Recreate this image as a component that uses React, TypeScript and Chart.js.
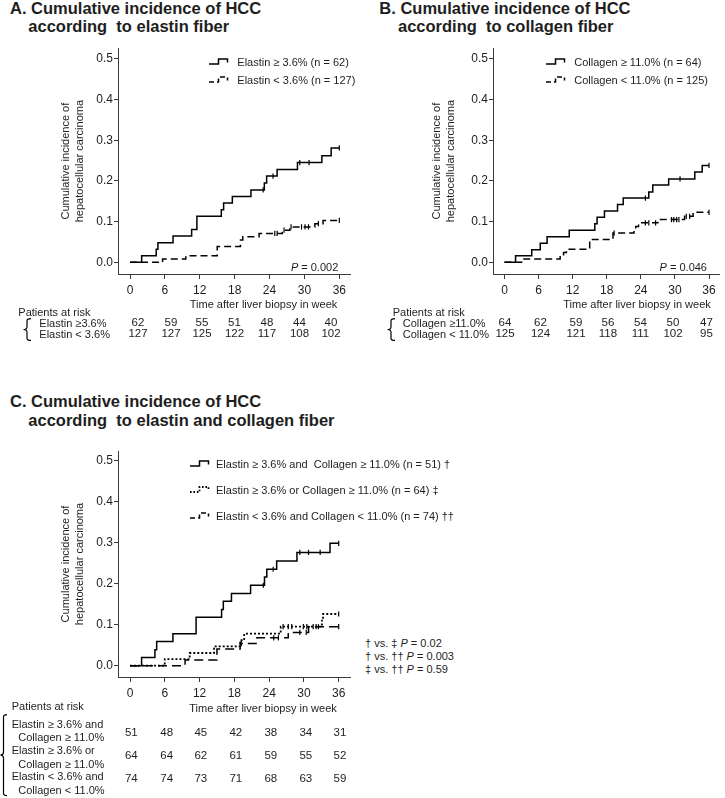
import React, { useEffect, useRef } from "react";
import { Chart, registerables } from "chart.js";

Chart.register(...registerables);

const FONT = "'Liberation Sans', Arial, Helvetica, sans-serif";
const INK = "#1e1e1e";
const AXIS = "#3a3a3a";

// ---------- shared axis ticks ----------
const weekTicks = [0, 6, 12, 18, 24, 30, 36];
const incidenceTicks = [0, 0.1, 0.2, 0.3, 0.4, 0.5];

// ---------- Panel A: elastin ----------
const elastinHighTimes = [0, 2.0, 4.5, 4.8, 7.4, 10.6, 11.5, 15.7, 16.1, 17.6, 20.8, 23.1, 23.5, 25.3, 28.8, 33.0, 34.6, 36];
const elastinHighValues = [0, 0.016, 0.032, 0.048, 0.065, 0.081, 0.113, 0.129, 0.146, 0.162, 0.178, 0.195, 0.212, 0.228, 0.245, 0.262, 0.281, 0.281];
const elastinHighCensors = [22.9, 24.6, 29.2, 30.8, 36];

const elastinLowTimes = [0, 5.6, 9.6, 15.0, 19.0, 19.4, 22.2, 26.2, 27.5, 31.8, 33.2, 36];
const elastinLowValues = [0, 0.008, 0.016, 0.039, 0.055, 0.063, 0.071, 0.079, 0.087, 0.095, 0.103, 0.103];
const elastinLowCensors = [24.9, 25.3, 26.5, 27.7, 29.5, 30.1, 30.7, 32.4, 36];

// ---------- Panel B: collagen ----------
const collagenHighTimes = [0, 1.95, 4.8, 6.3, 7.5, 11.4, 15.9, 16.3, 17.6, 19.9, 20.9, 25.4, 26.1, 28.9, 33.5, 34.8, 36];
const collagenHighValues = [0, 0.016, 0.031, 0.047, 0.063, 0.079, 0.095, 0.111, 0.126, 0.142, 0.158, 0.173, 0.190, 0.205, 0.222, 0.238, 0.238];
const collagenHighCensors = [24.8, 30.9, 36];

const collagenLowTimes = [0, 3.2, 9.8, 10.4, 10.9, 15.0, 19.1, 22.8, 23.1, 23.6, 27.0, 31.7, 33.2, 36];
const collagenLowValues = [0, 0.008, 0.016, 0.024, 0.032, 0.056, 0.072, 0.080, 0.088, 0.097, 0.105, 0.113, 0.123, 0.123];
const collagenLowCensors = [19.3, 24.8, 25.4, 26.6, 29.4, 29.8, 30.3, 30.7, 32.0, 32.6, 36];

// ---------- Panel C: combined ----------
const bothHighTimes = [0, 2.0, 4.3, 4.6, 7.4, 11.4, 15.8, 16.1, 17.5, 20.8, 23.2, 23.6, 25.3, 28.8, 34.5, 36];
const bothHighValues = [0, 0.020, 0.039, 0.059, 0.078, 0.118, 0.137, 0.157, 0.176, 0.196, 0.216, 0.235, 0.255, 0.276, 0.298, 0.298];
const bothHighCensors = [23.0, 24.7, 29.3, 30.8, 32.8, 36];

const eitherHighTimes = [0, 6.0, 10.3, 14.5, 19.0, 19.7, 26.0, 33.1, 33.3, 36];
const eitherHighValues = [0, 0.016, 0.031, 0.047, 0.062, 0.078, 0.095, 0.110, 0.126, 0.126];
const eitherHighCensors = [26.4, 27.3, 27.9, 29.9, 30.5, 36];

const bothLowTimes = [0, 9.5, 15.0, 19.0, 21.9, 27.3, 30.8, 36];
const bothLowValues = [0, 0.014, 0.041, 0.054, 0.068, 0.081, 0.095, 0.095];
const bothLowCensors = [19.2, 24.8, 25.6, 29.3, 30.4, 31.6, 32.1, 32.5, 36];

// ---------- numbers at risk ----------
const riskElastinHigh = [62, 59, 55, 51, 48, 44, 40];
const riskElastinLow = [127, 127, 125, 122, 117, 108, 102];
const riskCollagenHigh = [64, 62, 59, 56, 54, 50, 47];
const riskCollagenLow = [125, 124, 121, 118, 111, 102, 95];
const riskBothHigh = [51, 48, 45, 42, 38, 34, 31];
const riskEitherHigh = [64, 64, 62, 61, 59, 55, 52];
const riskBothLow = [74, 74, 73, 71, 68, 63, 59];

// layout of risk-table columns (pixels)
const colsA = [138, 171, 202, 234.5, 267, 299.5, 331];
const colsB = [505, 540.5, 576, 608, 640.5, 673, 706.5];
const colsC = [131.3, 166.7, 200.8, 235.8, 270.8, 305.8, 340];

function stepAt(times: number[], values: number[], t: number) {
  let v = values[0];
  for (let i = 0; i < times.length; i++) if (times[i] <= t) v = values[i];
  return v;
}

type Series = { times: number[]; values: number[]; censors: number[]; dash: number[]; width: number };

type Geo = {
  xMin: number; xMax: number; yMin: number; yMax: number;
  yAxisWidth: number; xAxisHeight: number; padTop: number; padRight: number; titlePad: number;
};

function makeConfig(series: Series[], g: Geo): any {
  const datasets: any[] = [];
  series.forEach((s) => {
    datasets.push({
      data: s.times.map((t, i) => ({ x: t, y: s.values[i] })),
      stepped: true,
      borderColor: "#000",
      borderWidth: s.width,
      borderDash: s.dash,
      pointRadius: 0,
      fill: false,
      tension: 0,
    });
    datasets.push({
      data: s.censors.map((t) => ({ x: t, y: stepAt(s.times, s.values, t) })),
      showLine: false,
      pointStyle: "line",
      rotation: 90,
      pointRadius: 2.6,
      pointBorderWidth: 1.2,
      pointBorderColor: "#000",
      borderColor: "#000",
    });
  });
  const gridBase = { display: true, drawOnChartArea: false, drawTicks: true, color: AXIS, lineWidth: 1 };
  return {
    type: "line",
    data: { datasets },
    options: {
      animation: false,
      responsive: false,
      maintainAspectRatio: false,
      events: [],
      layout: { padding: { left: 0, top: g.padTop, right: g.padRight, bottom: 0 } },
      plugins: { legend: { display: false }, tooltip: { enabled: false } },
      scales: {
        x: {
          type: "linear",
          min: g.xMin,
          max: g.xMax,
          afterBuildTicks: (sc: any) => { sc.ticks = weekTicks.map((v) => ({ value: v })); },
          afterFit: (sc: any) => { sc.height = g.xAxisHeight; },
          grid: { ...gridBase, tickLength: 5 },
          border: { display: true, color: AXIS, width: 1 },
          ticks: { font: { family: FONT, size: 12 }, color: INK, padding: 4, maxRotation: 0, autoSkip: false, callback: (v: any) => String(v) },
        },
        y: {
          type: "linear",
          min: g.yMin,
          max: g.yMax,
          afterBuildTicks: (sc: any) => { sc.ticks = incidenceTicks.map((v) => ({ value: v })); },
          afterFit: (sc: any) => { sc.width = g.yAxisWidth; },
          grid: { ...gridBase, tickLength: 4 },
          border: { display: true, color: AXIS, width: 1 },
          ticks: { font: { family: FONT, size: 12 }, color: INK, padding: 1, autoSkip: false, callback: (v: any) => Number(v).toFixed(1) },
          title: {
            display: true,
            text: ["Cumulative incidence of", "hepatocellular carcinoma"],
            font: { family: FONT, size: 11, lineHeight: 1.3 },
            color: INK,
            padding: { top: g.titlePad, bottom: 0 },
          },
        },
      },
    },
  };
}

function KMChart(props: { left: number; top: number; width: number; height: number; series: Series[]; geo: Geo }) {
  const ref = useRef<HTMLCanvasElement>(null);
  useEffect(() => {
    const chart = new Chart(ref.current as HTMLCanvasElement, makeConfig(props.series, props.geo));
    return () => chart.destroy();
  }, []);
  return (
    <canvas
      ref={ref}
      width={props.width}
      height={props.height}
      style={{ position: "absolute", left: props.left, top: props.top, width: props.width, height: props.height }}
    />
  );
}

function Txt(props: { x: number; y: number; anchor?: "start" | "middle" | "end"; size?: number; bold?: boolean; children: any }) {
  const a = props.anchor || "start";
  const tx = a === "middle" ? "-50%" : a === "end" ? "-100%" : "0";
  return (
    <div
      style={{
        position: "absolute",
        left: props.x,
        top: props.y,
        transform: `translate(${tx}, -50%)`,
        whiteSpace: "pre",
        fontFamily: FONT,
        fontSize: props.size || 11,
        lineHeight: 1,
        fontWeight: props.bold ? 700 : 400,
        color: INK,
      }}
    >
      {props.children}
    </div>
  );
}

function Glyph(props: { x: number; y: number; dash?: string; width?: number }) {
  return (
    <svg style={{ position: "absolute", left: props.x, top: props.y - 7 }} width={21} height={12}>
      <path d="M0 9 H9.5 V4 H18.5 V7.5" fill="none" stroke="#000" strokeWidth={props.width || 1.5} strokeDasharray={props.dash || "none"} />
    </svg>
  );
}

function Brace(props: { x: number; top: number; bottom: number; w?: number }) {
  const w = props.w || 8;
  const h = props.bottom - props.top;
  const mid = h / 2;
  const xm = w * 0.5;
  const r = Math.min(3, h / 8);
  const d = `M${w} 0.6 Q${xm} 0.6 ${xm} ${r} L${xm} ${mid - r} Q${xm} ${mid} 0.5 ${mid} Q${xm} ${mid} ${xm} ${mid + r} L${xm} ${h - r} Q${xm} ${h - 0.6} ${w} ${h - 0.6}`;
  return (
    <svg style={{ position: "absolute", left: props.x, top: props.top }} width={w + 1} height={h + 1}>
      <path d={d} fill="none" stroke="#000" strokeWidth={1.2} />
    </svg>
  );
}

function RiskRow(props: { cols: number[]; values: number[]; y: number }) {
  return (
    <>
      {props.values.map((v, i) => (
        <Txt key={i} x={props.cols[i]} y={props.y} anchor="middle" size={11.5}>{String(v)}</Txt>
      ))}
    </>
  );
}

const P = () => <i>P</i>;

export default function App() {
  const seriesA: Series[] = [
    { times: elastinHighTimes, values: elastinHighValues, censors: elastinHighCensors, dash: [], width: 1.5 },
    { times: elastinLowTimes, values: elastinLowValues, censors: elastinLowCensors, dash: [7, 4], width: 1.5 },
  ];
  const seriesB: Series[] = [
    { times: collagenHighTimes, values: collagenHighValues, censors: collagenHighCensors, dash: [], width: 1.5 },
    { times: collagenLowTimes, values: collagenLowValues, censors: collagenLowCensors, dash: [7, 4], width: 1.5 },
  ];
  const seriesC: Series[] = [
    { times: bothHighTimes, values: bothHighValues, censors: bothHighCensors, dash: [], width: 1.5 },
    { times: eitherHighTimes, values: eitherHighValues, censors: eitherHighCensors, dash: [2, 2], width: 1.8 },
    { times: bothLowTimes, values: bothLowValues, censors: bothLowCensors, dash: [9, 5], width: 1.5 },
  ];

  const geoA: Geo = { xMin: -2.07, xMax: 37.84, yMin: -0.0286, yMax: 0.526, yAxisWidth: 118, xAxisHeight: 28, padTop: 7, padRight: 12, titlePad: 58.5 };
  const geoB: Geo = { xMin: -2.02, xMax: 37.9, yMin: -0.0286, yMax: 0.526, yAxisWidth: 131, xAxisHeight: 28, padTop: 7, padRight: 1, titlePad: 68 };
  const geoC: Geo = { xMin: -2.07, xMax: 37.95, yMin: -0.0275, yMax: 0.523, yAxisWidth: 118, xAxisHeight: 25, padTop: 11, padRight: 12, titlePad: 58.5 };

  return (
    <div style={{ position: "absolute", left: 0, top: 0, width: 725, height: 798, background: "#fff", overflow: "hidden" }}>
      {/* Titles */}
      <Txt x={10} y={8} size={16.5} bold>A. Cumulative incidence of HCC</Txt>
      <Txt x={28.3} y={26.3} size={16.5} bold>{"according  to elastin fiber"}</Txt>
      <Txt x={379.3} y={8} size={16.5} bold>B. Cumulative incidence of HCC</Txt>
      <Txt x={398} y={26.3} size={16.5} bold>{"according  to collagen fiber"}</Txt>
      <Txt x={10} y={401} size={16.5} bold>C. Cumulative incidence of HCC</Txt>
      <Txt x={28.3} y={419.5} size={16.5} bold>{"according  to elastin and collagen fiber"}</Txt>

      {/* Charts */}
      <KMChart left={0} top={40} width={362} height={262} series={seriesA} geo={geoA} />
      <KMChart left={362} top={40} width={363} height={262} series={seriesB} geo={geoB} />
      <KMChart left={0} top={440} width={362} height={262} series={seriesC} geo={geoC} />

      {/* Legends A */}
      <Glyph x={209.3} y={62.3} />
      <Txt x={237.3} y={62.3}>Elastin ≥ 3.6% (n = 62)</Txt>
      <Glyph x={209.3} y={80.3} dash="5 3" />
      <Txt x={237.3} y={80.3}>Elastin &lt; 3.6% (n = 127)</Txt>
      <Txt x={338.3} y={266.5} anchor="end"><P /> = 0.002</Txt>

      {/* Legends B */}
      <Glyph x={546} y={62.3} />
      <Txt x={574.3} y={62.3}>Collagen ≥ 11.0% (n = 64)</Txt>
      <Glyph x={546} y={80.3} dash="5 3" />
      <Txt x={574.3} y={80.3}>Collagen &lt; 11.0% (n = 125)</Txt>
      <Txt x={707} y={266.5} anchor="end"><P /> = 0.046</Txt>

      {/* Legends C */}
      <Glyph x={190} y={464.3} />
      <Txt x={216} y={464.3}>{"Elastin ≥ 3.6% and  Collagen ≥ 11.0% (n = 51) †"}</Txt>
      <Glyph x={190} y={490} dash="1.6 1.8" width={1.8} />
      <Txt x={216} y={490}>Elastin ≥ 3.6% or Collagen ≥ 11.0% (n = 64) ‡</Txt>
      <Glyph x={190} y={515.7} dash="5 3" />
      <Txt x={216} y={515.7}>Elastin &lt; 3.6% and Collagen &lt; 11.0% (n = 74) ††</Txt>

      <Txt x={365} y={642.7}>† vs. ‡ <P /> = 0.02</Txt>
      <Txt x={365} y={656}>† vs. †† <P /> = 0.003</Txt>
      <Txt x={365} y={669.3}>‡ vs. †† <P /> = 0.59</Txt>

      {/* x-axis titles */}
      <Txt x={263.5} y={304} anchor="middle">Time after liver biopsy in week</Txt>
      <Txt x={637} y={304} anchor="middle">Time after liver biopsy in week</Txt>
      <Txt x={263} y={708} anchor="middle">Time after liver biopsy in week</Txt>

      {/* Risk table A */}
      <Txt x={18.3} y={312.3}>Patients at risk</Txt>
      <Brace x={23} top={317.5} bottom={340.5} />
      <Txt x={39.3} y={323.3}>Elastin ≥3.6%</Txt>
      <Txt x={39.3} y={334.3}>Elastin &lt; 3.6%</Txt>
      <RiskRow cols={colsA} values={riskElastinHigh} y={323.3} />
      <RiskRow cols={colsA} values={riskElastinLow} y={334.3} />

      {/* Risk table B */}
      <Txt x={392.7} y={312.3}>Patients at risk</Txt>
      <Brace x={387} top={317.5} bottom={340.5} />
      <Txt x={402.7} y={323.3}>Collagen ≥11.0%</Txt>
      <Txt x={402.7} y={334.3}>Collagen &lt; 11.0%</Txt>
      <RiskRow cols={colsB} values={riskCollagenHigh} y={323.3} />
      <RiskRow cols={colsB} values={riskCollagenLow} y={334.3} />

      {/* Risk table C */}
      <Txt x={11.7} y={705.7}>Patients at risk</Txt>
      <Brace x={0} top={714.3} bottom={796.5} w={7} />
      <Txt x={11.7} y={724.3}>Elastin ≥ 3.6% and</Txt>
      <Txt x={18.3} y={737.3}>Collagen ≥ 11.0%</Txt>
      <Txt x={11.7} y={750.3}>Elastin ≥ 3.6% or</Txt>
      <Txt x={18.3} y={763.7}>Collagen ≥ 11.0%</Txt>
      <Txt x={11.7} y={776.3}>Elastin &lt; 3.6% and</Txt>
      <Txt x={18.3} y={789.7}>Collagen &lt; 11.0%</Txt>
      <RiskRow cols={colsC} values={riskBothHigh} y={732.7} />
      <RiskRow cols={colsC} values={riskEitherHigh} y={756} />
      <RiskRow cols={colsC} values={riskBothLow} y={779.3} />
    </div>
  );
}
